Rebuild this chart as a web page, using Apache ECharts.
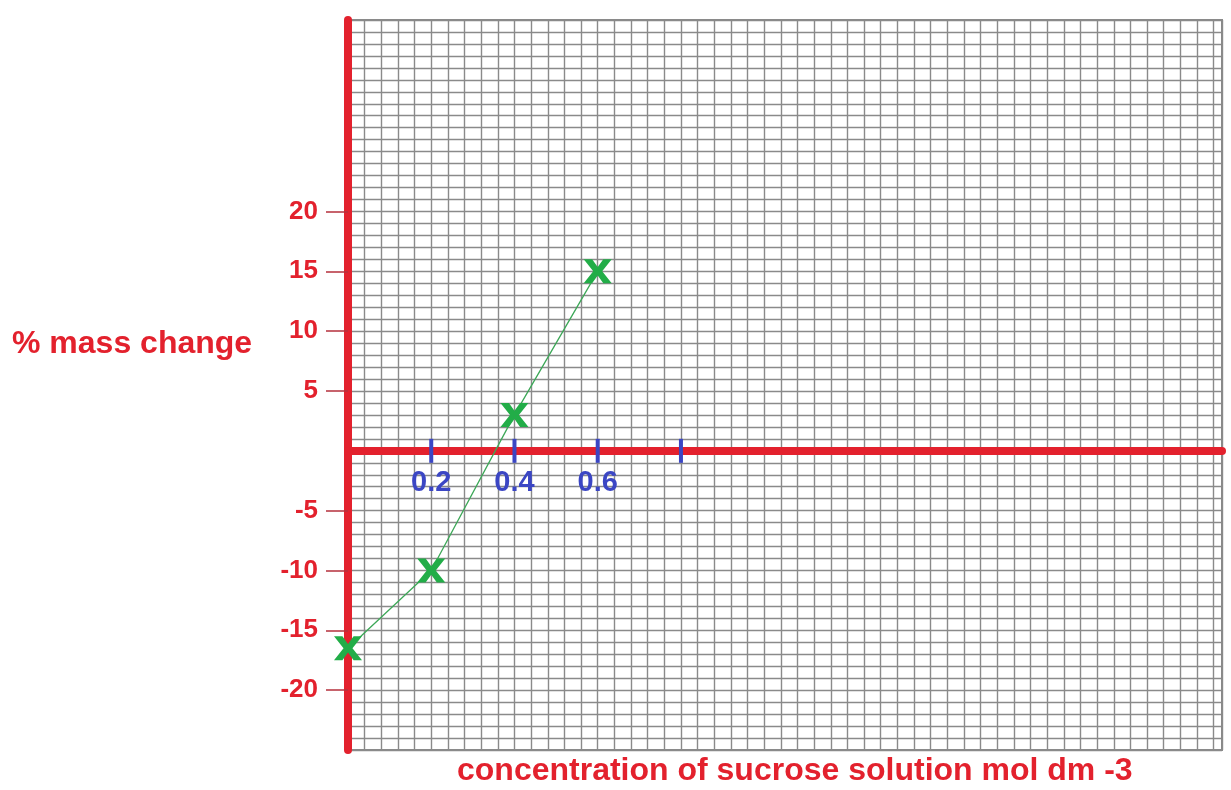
<!DOCTYPE html>
<html>
<head>
<meta charset="utf-8">
<script src="https://cdn.jsdelivr.net/npm/echarts@6/dist/echarts.min.js"></script>
<style>
html,body{margin:0;padding:0;background:#fff;}
#chart{width:1231px;height:790px;}
</style>
</head>
<body>
<div id="chart"></div>
<script>
// data
var concentration = [0, 0.2, 0.4, 0.6];
var massChange = [-16.5, -10, 3, 15];
var xTickValues = [0.2, 0.4, 0.6, 0.8];
var xLabelValues = [0.2, 0.4, 0.6];
var yLabelValues = [20, 15, 10, 5, -5, -10, -15, -20];
var xName = 'concentration of sucrose solution mol dm -3';
var yName = '% mass change';

var RED = '#e3212d';
var BLUE = '#3b46c4';
var GREEN = '#22ad48';
var FONT = 'Liberation Sans, Arial, sans-serif';
var GRIDLINE = {show: true, lineStyle: {color: '#8a8a8a', width: 1.4}};

var points = concentration.map(function (c, i) { return [c, massChange[i]]; });
var tickMarks = xTickValues.map(function (v) { return [v, 0]; });

var chart = echarts.init(document.getElementById('chart'), null, {renderer: 'canvas'});
chart.setOption({
  animation: false,
  backgroundColor: '#fff',
  grid: {
    left: 348, top: 20, width: 874, height: 730,
    outerBoundsMode: 'none', containLabel: false,
    show: true, borderColor: '#8a8a8a', borderWidth: 2, backgroundColor: 'transparent'
  },
  xAxis: [
    { // graph paper vertical lines
      type: 'value', min: 0, max: 2.1, interval: 0.04, position: 'bottom',
      axisLine: {show: false}, axisTick: {show: false}, axisLabel: {show: false},
      splitLine: GRIDLINE
    },
    { // red x axis at y = 0
      type: 'value', min: 0, max: 2.1, interval: 0.2, position: 'bottom',
      axisLine: {onZero: true, onZeroAxisIndex: 1, lineStyle: {color: RED, width: 8}},
      axisTick: {show: false}, axisLabel: {show: false}, splitLine: {show: false}
    }
  ],
  yAxis: [
    { // graph paper horizontal lines
      type: 'value', min: -25, max: 36, interval: 1, position: 'left',
      axisLine: {show: false}, axisTick: {show: false}, axisLabel: {show: false},
      splitLine: GRIDLINE
    },
    { // red y axis
      type: 'value', min: -25, max: 36, interval: 1, position: 'left', offset: 0,
      axisLine: {onZero: false, lineStyle: {color: RED, width: 8}},
      axisTick: {show: true, customValues: yLabelValues, length: 22, lineStyle: {color: '#b5303c', width: 1.5}},
      axisLabel: {
        customValues: yLabelValues,
        color: RED, fontSize: 26, fontWeight: 'bold', fontFamily: FONT, margin: 30
      },
      splitLine: {show: false}
    }
  ],
  graphic: [
    {type: 'text', left: 12, top: 328, style: {text: yName, fill: RED, font: 'bold 32px ' + FONT}},
    {type: 'text', left: 457, top: 755, style: {text: xName, fill: RED, font: 'bold 32px ' + FONT}}
  ],
  series: [
    {
      type: 'scatter', data: tickMarks, symbol: 'rect', symbolSize: [4, 24],
      itemStyle: {color: BLUE, opacity: 1}, z: 3, silent: true,
      label: {
        show: true, position: 'bottom', distance: 6, opacity: 1,
        color: BLUE, fontSize: 29, fontWeight: 'bold', fontFamily: FONT,
        formatter: function (p) {
          return xLabelValues.indexOf(p.value[0]) >= 0 ? p.value[0].toFixed(1) : '';
        }
      }
    },
    {
      type: 'line', data: points,
      symbol: 'path://M0,0 L3,0 L5,2.6 L7,0 L10,0 L6.6,4 L10,8 L7,8 L5,5.4 L3,8 L0,8 L3.4,4 Z',
      symbolSize: [28, 24],
      itemStyle: {color: GREEN},
      lineStyle: {color: '#3da858', width: 1.3},
      z: 4
    }
  ]
});
</script>
</body>
</html>
